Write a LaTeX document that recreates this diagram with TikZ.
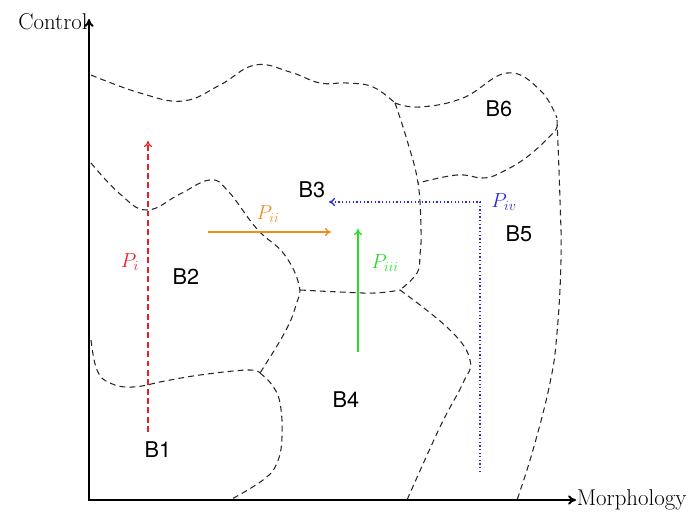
\documentclass[tikz,border=0pt]{standalone}
\usepackage{fontspec}
\newfontfamily\regionfont{TeX Gyre Heros}
\usetikzlibrary{arrows.meta}
\definecolor{pathred}{RGB}{235,30,35}
\definecolor{pathorange}{RGB}{240,140,30}
\definecolor{pathgreen}{RGB}{40,220,40}
\definecolor{pathblue}{RGB}{40,40,220}
\tikzset{
	axis/.style={{To[length=2.4mm,width=2.8mm]}-{To[length=2.4mm,width=2.8mm]}, line width=1.7pt},
	border/.style={dashed, dash pattern=on 5pt off 3.5pt, line width=0.9pt, black!85},
	region/.style={font=\regionfont\fontsize{18.5}{22}\selectfont},
	axislabel/.style={font=\fontsize{19.5}{23}\selectfont, inner sep=1pt},
	pathlabel/.style={font=\fontsize{18.5}{22}\selectfont},
	pathi/.style={-{To[length=1.8mm,width=2.4mm]}, pathred, dashed, dash pattern=on 5pt off 3pt, line width=1pt},
	pathii/.style={-{To[length=1.8mm,width=2.4mm]}, pathorange, line width=1.1pt},
	pathiii/.style={-{To[length=1.8mm,width=2.4mm]}, pathgreen, line width=1.1pt},
	pathiv/.style={-{To[length=1.8mm,width=2.4mm]}, pathblue, dotted, line width=1.1pt}
}
\begin{document}
\begin{tikzpicture}[x=0.03cm, y=-0.03cm]
	\useasboundingbox (0,0) rectangle (688,512);
	\coordinate (ytop) at (89,19);
	\coordinate (origin) at (89,500);
	\coordinate (xend) at (576,500);
	\draw[axis] (ytop) -- (origin) -- (xend);
	\node[axislabel, left] (control) at (ytop |- 0,22) {Control};
	\node[axislabel, right, inner sep=0.5pt] (morph) at (xend) {Morphology};

	\draw[border] plot[smooth, tension=0.7] coordinates {(91,75) (140,93) (183,101) (220,85) (255,65) (290,72) (320,83) (347,83) (373,87) (395,103)};
	\draw[border] plot[smooth, tension=0.7] coordinates {(395,103) (420,107) (463,98) (507,73) (540,90) (557,118)};
	\draw[border] plot[smooth, tension=0.7] coordinates {(557,125) (553,133) (527,157) (500,173) (483,178) (457,175) (418,183)};
	\draw[border] plot[smooth, tension=0.7] coordinates {(395,103) (407,140) (418,183) (421,230) (420,255) (417,273) (400,290)};
	\draw[border] plot[smooth, tension=0.7] coordinates {(300,290) (340,292) (375,293) (400,290)};
	\draw[border] plot[smooth, tension=0.7] coordinates {(557,120) (560,200) (561,260) (557,333) (550,383) (533,450) (517,500)};
	\draw[border] plot[smooth, tension=0.7] coordinates {(400,290) (450,330) (470,360) (463,383) (440,427) (407,500)};
	\draw[border] plot[smooth, tension=0.7] coordinates {(91,163) (120,194) (147,210) (180,194) (210,180) (228,191) (257,229) (284,254) (299,285) (296,305) (285,332) (260,373)};
	\draw[border] plot[smooth, tension=0.7] coordinates {(91,340) (97,370) (110,383) (133,387) (165,381) (200,375) (247,370) (260,373)};
	\draw[border] plot[smooth, tension=0.7] coordinates {(260,373) (272,385) (280,403) (282,437) (277,463) (263,480) (230,500)};

	\node[region] (B1) at (158,450) {B1};
	\node[region] (B2) at (186,277) {B2};
	\node[region] (B3) at (312,190) {B3};
	\node[region] (B4) at (346,400) {B4};
	\node[region] (B5) at (519,234) {B5};
	\node[region] (B6) at (499,109) {B6};

	\coordinate (pistart) at (148,432);
	\coordinate (piend) at (148,141);
	\draw[pathi] (pistart) -- (piend);
	\node[pathlabel, text=pathred] (Pi) at (130,262) {$P_i$};

	\coordinate (piistart) at (208,232);
	\coordinate (piiend) at (331,232);
	\draw[pathii] (piistart) -- (piiend);
	\node[pathlabel, text=pathorange] (Pii) at (268,214) {$P_{ii}$};

	\coordinate (piiistart) at (358,352);
	\coordinate (piiiend) at (358,229);
	\draw[pathiii] (piiistart) -- (piiiend);
	\node[pathlabel, text=pathgreen] (Piii) at (385,263) {$P_{iii}$};

	\coordinate (pivstart) at (480,472);
	\coordinate (pivturn) at (480,202);
	\coordinate (pivend) at (329,202);
	\draw[pathiv] (pivstart) -- (pivturn) -- (pivend);
	\node[pathlabel, text=pathblue] (Piv) at (504,202) {$P_{iv}$};
\end{tikzpicture}
\end{document}
